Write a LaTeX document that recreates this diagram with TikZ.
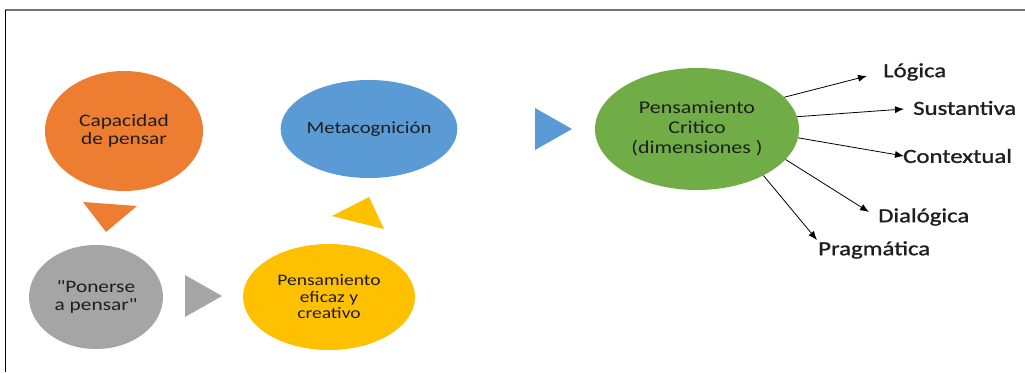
\documentclass[tikz,border=0pt]{standalone}
\usepackage{fontspec}
\setmainfont{Carlito}[FakeStretch=1.22, Ligatures=TeXOff]
\newfontfamily\dimfont{Carlito}[FakeStretch=1.24, FakeBold=1.2]
\usetikzlibrary{shapes.geometric,arrows.meta}

\definecolor{ofOrange}{HTML}{ED7D31}
\definecolor{ofGray}{HTML}{A5A5A5}
\definecolor{ofYellow}{HTML}{FFC000}
\definecolor{ofBlue}{HTML}{5B9BD5}
\definecolor{ofGreen}{HTML}{70AD47}
\definecolor{ofText}{HTML}{1E1E1E}

\begin{document}
\begin{tikzpicture}[x=1pt, y=-1pt,
  bubble/.style={ellipse, inner sep=0pt, align=center, text=ofText,
    font=\fontsize{17.5}{18.5}\selectfont},
  dimlabel/.style={anchor=west, inner sep=0pt, text=ofText,
    font=\dimfont\fontsize{20}{22}\selectfont},
  dimarrow/.style={-{Latex[length=9pt, width=7pt]}, line width=0.8pt}]
\useasboundingbox (0,0) rectangle (1025,372);

%frame of the figure
\draw[gray!90!black, line width=1.6pt] (5,10) -- (1025,10);
\draw[black, line width=1.2pt] (5.5,10) -- (5.5,372);

%the bubbles
\node[bubble, fill=ofOrange, minimum width=158, minimum height=120] (capacidad) at (124,131) {Capacidad\\de pensar};
\node[bubble, fill=ofGray, minimum width=134, minimum height=104] (ponerse) at (96,297) {"Ponerse\\a pensar"};
\node[bubble, fill=ofYellow, minimum width=172, minimum height=106, font=\fontsize{16}{16.5}\selectfont] (eficaz) at (329,297) {Pensamiento\\eficaz y\\creativo};
\node[bubble, fill=ofBlue, minimum width=172, minimum height=98, font=\fontsize{17}{18}\selectfont] (meta) at (369,129) {Metacognición};
\node[bubble, fill=ofGreen, minimum width=204, minimum height=122, font=\fontsize{18}{20}\selectfont] (critico) at (697,129) {Pensamiento\\Critico\\(dimensiones )};

%triangles between the bubbles
\fill[ofOrange] (83,202) -- (137,206) -- (106,232) -- cycle;
\fill[ofGray] (185,275) -- (185,317) -- (222,296) -- cycle;
\fill[ofYellow] (332,216) -- (369,197) -- (384,229) -- cycle;
\fill[ofBlue] (535,108) -- (535,150) -- (572,129) -- cycle;

%the dimensions
\node[dimlabel] (logica) at (883,72) {Lógica};
\node[dimlabel] (sustantiva) at (913,108) {Sustantiva};
\node[dimlabel] (contextual) at (903,156) {Contextual};
\node[dimlabel] (dialogica) at (878,217) {Dialógica};
\node[dimlabel] (pragmatica) at (818,250) {Pragmática};

\coordinate (logicaEnd) at (867,76);
\coordinate (sustantivaEnd) at (904,109);
\coordinate (contextualEnd) at (904,156);
\coordinate (dialogicaEnd) at (869,212);
\coordinate (pragmaticaEnd) at (817,240);

\draw[dimarrow] (critico.20) -- (logicaEnd);
\draw[dimarrow] (critico.7) -- (sustantivaEnd);
\draw[dimarrow] (critico.-5) -- (contextualEnd);
\draw[dimarrow] (critico.-19) -- (dialogicaEnd);
\draw[dimarrow] (critico.-35) -- (pragmaticaEnd);

\end{tikzpicture}
\end{document}
